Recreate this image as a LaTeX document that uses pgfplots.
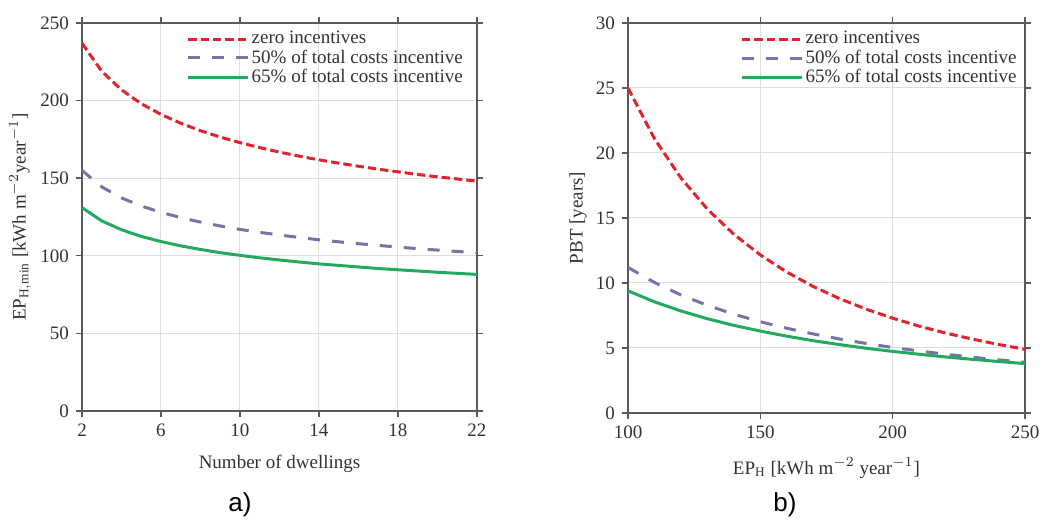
\documentclass[border=0pt]{standalone}
\usepackage{fontspec}
\setmainfont{Liberation Serif}
\newfontfamily\capfont{Liberation Sans}
\usepackage{pgfplots}
\pgfplotsset{compat=1.18}
\definecolor{cred}{RGB}{225,35,45}
\definecolor{cpur}{RGB}{120,115,165}
\definecolor{cgrn}{RGB}{35,170,95}
\definecolor{caxis}{RGB}{90,90,90}
\definecolor{cgrid}{RGB}{222,222,222}
\definecolor{ctext}{RGB}{50,50,50}
\pgfplotsset{
  myaxis/.style={
    scale only axis,
    axis line style={caxis, line width=0.8pt},
    major grid style={cgrid, line width=0.5pt},
    grid=major,
    tick align=outside,
    major tick length=3pt,
    tick style={caxis, line width=0.7pt},
    every tick label/.append style={font=\fontsize{9.5}{11}\selectfont, text=ctext},
    /pgf/number format/assume math mode=true,
    label style={font=\fontsize{9.5}{11}\selectfont, text=ctext},
    legend style={draw=none, fill=none, font=\fontsize{9.5}{10}\selectfont,
      anchor=north east, row sep=-0.5pt, inner sep=0pt,
      nodes={inner sep=1pt, text=ctext}, cells={anchor=west}},
    legend image code/.code={\draw[##1] (0pt,0pt) -- (30pt,0pt);},
    legend cell align=left,
  },
  redline/.style={cred, line width=1.5pt, dash pattern=on 4.2pt off 2pt},
  purline/.style={cpur, line width=1.5pt, dash pattern=on 6pt off 6pt},
  grnline/.style={cgrn, line width=1.5pt},
}
\begin{document}
\begin{tikzpicture}
\path (0pt,0pt) rectangle (523pt,259.5pt);
\begin{axis}[myaxis,
  at={(41pt,54pt)}, anchor=south west,
  width=197.5pt, height=194pt,
  xmin=2, xmax=22, ymin=0, ymax=250,
  xtick={2,6,10,14,18,22}, ytick={0,50,100,150,200,250},
  xlabel={Number of dwellings},
  ylabel={EP$_{\mathrm{H,min}}$ [kWh m$^{-2}$year$^{-1}$]},
  xlabel style={at={(axis description cs:0.5,-0.137)}, anchor=center},
  ylabel style={at={(axis description cs:-0.157,0.5)}, anchor=center},
  legend style={at={(0.97,0.985)}},
]
\addplot[redline] coordinates {(2,237.0)(3,218.9)(4,206.9)(5,198.0)(6,191.1)(7,185.4)(8,180.6)(9,176.5)(10,172.9)(11,169.7)(12,166.8)(13,164.2)(14,161.8)(15,159.7)(16,157.7)(17,155.8)(18,154.1)(19,152.4)(20,150.9)(21,149.5)(22,148.1)};
\addlegendentry{zero incentives}
\addplot[purline] coordinates {(2,155.0)(3,144.4)(4,137.3)(5,132.1)(6,128.0)(7,124.6)(8,121.7)(9,119.2)(10,117.0)(11,115.1)(12,113.4)(13,111.8)(14,110.3)(15,109.0)(16,107.8)(17,106.7)(18,105.6)(19,104.6)(20,103.7)(21,102.8)(22,102.0)};
\addlegendentry{50\% of total costs incentive}
\addplot[grnline] coordinates {(2,131.0)(3,122.5)(4,116.8)(5,112.5)(6,109.2)(7,106.4)(8,104.1)(9,102.0)(10,100.3)(11,98.7)(12,97.3)(13,96.0)(14,94.8)(15,93.8)(16,92.8)(17,91.8)(18,91.0)(19,90.2)(20,89.4)(21,88.7)(22,88.0)};
\addlegendentry{65\% of total costs incentive}
\end{axis}
\begin{axis}[myaxis,
  at={(314pt,53pt)}, anchor=south west,
  width=198.5pt, height=195pt,
  xmin=100, xmax=250, ymin=0, ymax=30,
  xtick={100,150,200,250}, ytick={0,5,10,15,20,25,30},
  xlabel={EP$_{\mathrm{H}}$ [kWh m$^{-2}$ year$^{-1}$]},
  ylabel={PBT [years]},
  xlabel style={at={(axis description cs:0.5,-0.141)}, anchor=center},
  ylabel style={at={(axis description cs:-0.126,0.5)}, anchor=center},
  legend style={at={(0.985,0.985)}},
]
\addplot[redline] coordinates {(100,25.00)(110,21.10)(120,18.08)(130,15.68)(140,13.75)(150,12.16)(160,10.84)(170,9.73)(180,8.79)(190,7.99)(200,7.29)(210,6.68)(220,6.15)(230,5.69)(240,5.27)(250,4.90)};
\addlegendentry{zero incentives}
\addplot[purline] coordinates {(100,11.20)(110,10.04)(120,9.08)(130,8.28)(140,7.60)(150,7.02)(160,6.52)(170,6.08)(180,5.69)(190,5.35)(200,5.04)(210,4.77)(220,4.52)(230,4.29)(240,4.09)(250,3.90)};
\addlegendentry{50\% of total costs incentive}
\addplot[grnline] coordinates {(100,9.40)(110,8.55)(120,7.85)(130,7.25)(140,6.74)(150,6.30)(160,5.91)(170,5.56)(180,5.26)(190,4.98)(200,4.74)(210,4.52)(220,4.31)(230,4.13)(240,3.96)(250,3.80)};
\addlegendentry{65\% of total costs incentive}
\end{axis}
\node[font=\capfont\fontsize{13}{15}\selectfont] at (120pt,7pt) {a)};
\node[font=\capfont\fontsize{13}{15}\selectfont] at (392.5pt,7pt) {b)};
\end{tikzpicture}
\end{document}
